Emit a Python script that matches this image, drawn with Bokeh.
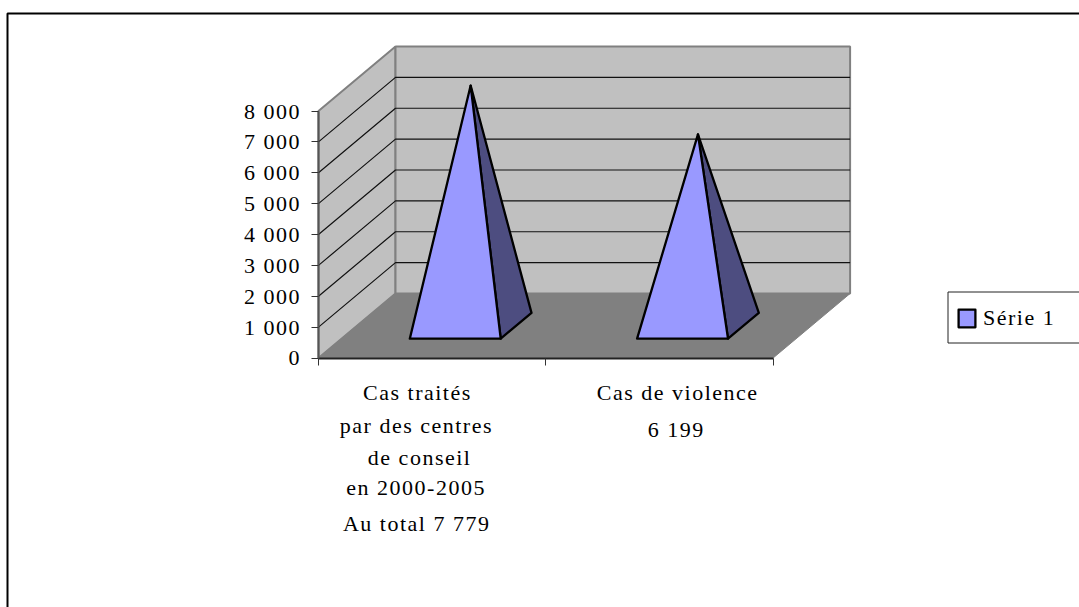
from bokeh.plotting import figure
from bokeh.embed import file_html
from bokeh.resources import INLINE
from bokeh.models import Range1d, LinearAxis, FixedTicker, Label, BoxAnnotation, Legend, LegendItem

# ---- data ----
categories = [0.5, 1.5]
values = [7779, 6199]
series_name = "Série 1"
y_ticks = [0, 1000, 2000, 3000, 4000, 5000, 6000, 7000, 8000]
y_tick_labels = ["0", "1 000", "2 000", "3 000", "4 000", "5 000", "6 000", "7 000", "8 000"]
cat_boundaries = [0, 1, 2]
label_lines = [
    ("Cas traités", 0.5, -23, 392), ("par des centres", 0.5, -27, 425), ("de conseil", 0.5, -20, 457),
    ("en 2000-2005", 0.5, -25, 487), ("Au total 7 779", 0.5, -26, 523),
    ("Cas de violence", 1.5, 7, 392), ("6 199", 1.5, 13, 429),
]

# ---- geometry of the oblique projection ----
W, H = 1079, 607
PX_PER_CAT = 227.3
PX_PER_VAL = 247 / 8000
DEPTH_X = 77 / PX_PER_CAT
DEPTH_Y = 64.5 / PX_PER_VAL
HALF_W, D_FRONT, D_BACK, D_MID = 0.2, 0.3, 0.7, 0.5
FONT = "Liberation Serif"
FS = "22px"
ORIGIN_X, ORIGIN_Y = 318, 357.5


def proj(c, v, d):
    return c + d * DEPTH_X, v + d * DEPTH_Y


def poly(pts):
    xy = [proj(*q) for q in pts]
    return [a for a, _ in xy], [b for _, b in xy]


p = figure(
    width=W, height=H, output_backend="svg", toolbar_location=None,
    x_range=Range1d(-ORIGIN_X / PX_PER_CAT, (W - ORIGIN_X) / PX_PER_CAT),
    y_range=Range1d(-(H - ORIGIN_Y) / PX_PER_VAL, ORIGIN_Y / PX_PER_VAL),
    x_axis_type=None, y_axis_type=None,
    min_border=0,
    styles={"letter-spacing": "1.5px"},
)
p.outline_line_color = None
p.grid.visible = False

TOP = y_ticks[-1]
EDGE = "#808080"
# walls and floor
x, y = poly([(0, 0, 0), (0, 0, 1), (0, TOP, 1), (0, TOP, 0)])
p.patch(x, y, fill_color="#C0C0C0", line_color=EDGE, line_width=2)
x, y = poly([(0, 0, 1), (2, 0, 1), (2, TOP, 1), (0, TOP, 1)])
p.patch(x, y, fill_color="#C0C0C0", line_color=EDGE, line_width=2)
x, y = poly([(0, 0, 0), (2, 0, 0), (2, 0, 1), (0, 0, 1)])
p.patch(x, y, fill_color="#808080", line_color="#808080", line_width=1)

# gridlines
gx, gy = [], []
for t in y_ticks[1:-1]:
    a, b = poly([(0, t, 0), (0, t, 1), (2, t, 1)])
    gx.append(a)
    gy.append(b)
p.multi_line(gx, gy, line_color="#111111", line_width=1.2)

# pyramids
front_r = None
for c, v in zip(categories, values):
    x, y = poly([(c + HALF_W, 0, D_FRONT), (c + HALF_W, 0, D_BACK), (c, v, D_MID)])
    p.patch(x, y, fill_color="#4D4D80", line_color="black", line_width=2.3, line_join="round")
    x, y = poly([(c - HALF_W, 0, D_FRONT), (c + HALF_W, 0, D_FRONT), (c, v, D_MID)])
    r = p.patch(x, y, fill_color="#9999FF", line_color="black", line_width=2.3, line_join="round")
    front_r = front_r or r

# axes
yax = LinearAxis(ticker=FixedTicker(ticks=y_ticks), bounds=(0, TOP), fixed_location=0)
yax.major_label_overrides = {t: (s if t else "") for t, s in zip(y_ticks, y_tick_labels)}
yax.major_label_text_font = FONT
yax.major_label_text_font_size = FS
yax.major_label_text_color = "black"
yax.major_label_standoff = 18
yax.major_tick_in = 0
yax.major_tick_out = 7
yax.minor_tick_line_color = None
yax.major_tick_line_color = "#333333"
yax.axis_line_color = "#555555"
yax.axis_line_width = 2
p.add_layout(yax, "left")

# the zero label has no letter gaps to offset, so it is placed on its own
p.add_layout(Label(x=0, y=y_ticks[0], x_offset=-19, text=y_tick_labels[0], text_align="right",
                   text_baseline="middle", text_font=FONT, text_font_size=FS, text_color="black"))

xax = LinearAxis(ticker=FixedTicker(ticks=cat_boundaries), bounds=(0, 2), fixed_location=0)
xax.major_label_text_font_size = "0px"
xax.major_label_overrides = {t: "" for t in cat_boundaries}
xax.major_tick_in = 0
xax.major_tick_out = 7
xax.minor_tick_line_color = None
xax.major_tick_line_color = "#333333"
xax.axis_line_color = "#222222"
xax.axis_line_width = 2
p.add_layout(xax, "below")

# multi-line category labels
for txt, c, dx, py in label_lines:
    p.add_layout(Label(x=c, y=0, x_offset=dx, y_offset=ORIGIN_Y - py, text=txt, text_align="center",
                       text_baseline="middle", text_font=FONT, text_font_size=FS, text_color="black"))

# outer chart frame and legend box (screen units: from the frame's bottom-left)
p.add_layout(BoxAnnotation(left=7, right=W + 40, top=H - 13, bottom=-40, left_units="screen", right_units="screen",
                           top_units="screen", bottom_units="screen", fill_alpha=0,
                           line_color="black", line_alpha=1, line_width=2))
p.add_layout(BoxAnnotation(left=947.5, right=W + 40, top=H - 291.5, bottom=H - 342.5, left_units="screen",
                           right_units="screen", top_units="screen", bottom_units="screen", fill_color="white",
                           fill_alpha=1, line_color="#222222", line_alpha=1, line_width=1))

legend = Legend(items=[LegendItem(label=series_name, renderers=[front_r])], location=(956, H - 331),
                padding=0, margin=0, border_line_color=None, background_fill_alpha=0,
                glyph_width=21, glyph_height=22, label_height=22, label_standoff=6,
                label_text_font=FONT, label_text_font_size=FS, label_text_color="black")
p.add_layout(legend)

open("out.html", "w").write(file_html(p, INLINE))
